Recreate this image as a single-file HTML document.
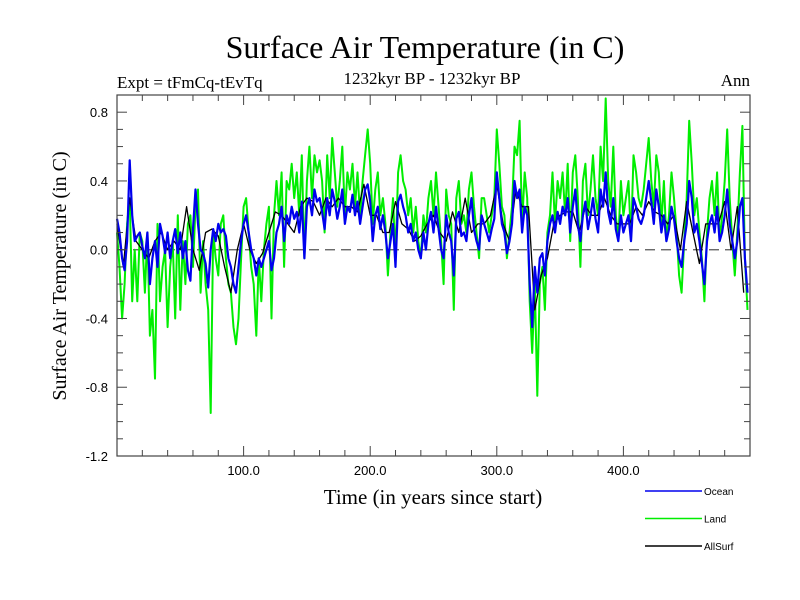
<!DOCTYPE html>
<html><head><meta charset="utf-8"><style>
body{margin:0;background:#fff;}
svg{display:block;}
</style></head><body>
<svg id="chart" width="800" height="600" viewBox="0 0 800 600">
<text x="425" y="58" text-anchor="middle" font-family="Liberation Serif" font-size="32">Surface Air Temperature (in C)</text>
<text x="117" y="88" font-family="Liberation Serif" font-size="17">Expt = tFmCq-tEvTq</text>
<text x="432" y="84" text-anchor="middle" font-family="Liberation Serif" font-size="17">1232kyr BP - 1232kyr BP</text>
<text x="750" y="86" text-anchor="end" font-family="Liberation Serif" font-size="17">Ann</text>
<text transform="translate(66,276) rotate(-90)" text-anchor="middle" font-family="Liberation Serif" font-size="20">Surface Air Temperature (in C)</text>
<text x="433" y="504" text-anchor="middle" font-family="Liberation Serif" font-size="21">Time (in years since start)</text>
<g id="plot"></g>
<g id="axes"></g>
<g id="legend"></g>
</svg>
<script>
const oceanVals=[0.18,0.10,-0.05,-0.12,0.05,0.52,0.20,0.05,0.08,0.10,0.02,-0.05,0.10,-0.20,-0.05,0.05,-0.10,0.15,0.08,-0.02,0.10,-0.05,0.05,0.12,-0.02,
0.10,-0.05,0.05,-0.12,-0.18,0.12,0.35,0.15,0.0,-0.02,-0.08,-0.22,0.0,0.12,0.05,0.15,0.10,0.12,0.08,-0.05,-0.10,-0.20,-0.25,-0.10,0.05,
0.15,0.20,0.10,0.0,-0.05,-0.15,-0.05,-0.10,-0.05,0.0,0.05,-0.12,-0.05,0.10,0.15,0.25,0.05,0.20,0.15,0.25,0.18,0.22,0.10,0.28,-0.05,
0.25,0.30,0.20,0.35,0.28,0.30,0.22,0.12,0.30,0.20,0.35,0.28,0.18,0.25,0.35,0.15,0.25,0.22,0.32,0.20,0.28,0.15,0.25,0.35,0.38,
0.28,0.05,0.20,0.25,0.12,0.20,0.10,-0.05,0.05,0.15,-0.10,0.28,0.32,0.25,0.20,0.10,0.15,0.05,0.10,0.0,-0.05,0.10,0.0,0.15,0.22,
0.10,0.25,0.12,0.0,-0.05,0.20,0.10,0.05,-0.15,0.18,0.22,0.08,0.10,0.05,0.20,0.30,0.12,0.05,0.0,0.20,0.15,0.10,0.05,0.12,0.18,
0.45,0.30,0.15,0.10,-0.02,0.05,0.15,0.40,0.30,0.35,0.10,0.25,0.20,-0.20,-0.45,-0.10,-0.25,-0.05,-0.02,-0.15,0.05,0.15,0.20,0.10,0.22,
0.15,0.25,0.20,0.30,0.10,0.25,0.35,0.15,0.05,0.20,0.28,0.12,0.20,0.30,0.18,0.10,0.35,0.25,0.45,0.22,0.15,0.30,0.12,0.05,0.20,
0.10,0.15,0.20,0.05,0.30,0.25,0.18,0.15,0.20,0.30,0.40,0.28,0.15,0.35,0.25,0.10,0.20,0.05,0.12,0.25,0.18,0.05,-0.05,-0.10,0.05,
0.15,0.40,0.30,0.10,0.15,0.05,-0.08,-0.20,0.05,0.15,0.20,0.10,0.25,0.05,0.10,0.20,0.35,0.15,0.05,-0.05,0.05,0.25,0.30,-0.05,-0.25];
const landVals=[0.10,-0.10,-0.40,-0.20,0.15,0.30,-0.30,0.0,-0.30,0.10,0.05,-0.25,0.10,-0.50,-0.35,-0.75,0.15,-0.30,-0.10,0.0,-0.45,-0.10,0.05,-0.40,0.20,
-0.35,0.05,-0.20,0.15,0.20,-0.10,0.25,0.35,-0.25,0.05,-0.20,-0.35,-0.95,0.10,-0.05,-0.15,0.15,0.20,-0.05,-0.20,-0.25,-0.45,-0.55,-0.40,-0.05,
0.25,0.30,0.10,-0.10,-0.20,-0.50,-0.05,-0.30,0.0,0.15,0.25,-0.40,0.20,0.40,0.20,0.45,-0.10,0.40,0.35,0.50,0.30,0.45,0.20,0.55,-0.05,
0.40,0.60,0.30,0.55,0.45,0.52,0.40,0.10,0.55,0.30,0.65,0.45,0.25,0.40,0.60,0.20,0.45,0.35,0.50,0.25,0.45,0.20,0.40,0.55,0.70,
0.50,0.15,0.35,0.45,0.20,0.30,0.15,-0.15,0.10,0.30,-0.05,0.45,0.55,0.40,0.35,0.20,0.30,0.10,0.25,0.05,-0.05,0.20,0.10,0.30,0.40,
0.20,0.45,0.25,0.05,-0.20,0.35,0.20,0.15,-0.35,0.30,0.40,0.15,0.20,0.10,0.35,0.45,0.25,0.10,-0.05,0.30,0.30,0.20,0.10,0.20,0.30,
0.70,0.50,0.25,0.20,-0.05,0.10,0.25,0.60,0.55,0.75,0.15,0.45,0.30,-0.30,-0.60,-0.20,-0.85,-0.20,-0.10,-0.35,0.10,0.20,0.45,0.15,0.40,
0.30,0.45,0.20,0.50,0.05,0.45,0.55,0.30,-0.10,0.40,0.50,0.20,0.35,0.55,0.30,0.20,0.60,0.40,0.88,0.40,0.25,0.60,0.20,0.05,0.40,
0.20,0.30,0.40,0.05,0.55,0.45,0.30,0.25,0.35,0.50,0.65,0.40,0.25,0.55,0.45,0.15,0.40,0.05,0.20,0.45,0.30,0.10,-0.15,-0.25,0.05,
0.30,0.75,0.50,0.20,0.30,0.10,-0.05,-0.30,0.10,0.30,0.40,0.20,0.45,0.05,0.20,0.40,0.70,0.30,0.05,-0.15,0.10,0.45,0.72,-0.05,-0.35];
const allSurfVals=[0.15,-0.10,0.30,0.05,0.0,-0.05,0.05,0.10,0.0,0.05,0.0,0.25,0.0,-0.12,0.10,0.12,0.08,-0.10,-0.25,0.0,
0.15,0.0,-0.08,-0.02,0.10,0.22,0.20,0.15,0.10,0.25,0.30,0.28,0.20,0.30,0.25,0.30,0.25,0.25,0.22,0.38,
0.20,0.20,0.10,0.10,0.28,0.15,0.12,0.05,0.08,0.15,0.20,0.10,0.05,0.22,0.10,0.30,0.10,0.15,0.15,0.20,
0.38,0.15,0.05,0.35,0.25,0.25,-0.35,-0.15,-0.05,0.15,0.20,0.22,0.22,0.10,0.25,0.20,0.20,0.30,0.20,0.15,
0.15,0.15,0.25,0.20,0.28,0.22,0.20,0.15,0.20,0.0,0.28,0.10,-0.08,0.15,0.15,0.15,0.28,0.0,0.25,-0.25];
const oceanStep=2, landStep=2, allSurfStep=5;
const yTickVals=[0.8,0.4,0.0,-0.4,-0.8,-1.2];
const yTickLabels=["0.8","0.4","0.0","-0.4","-0.8","-1.2"];
const xTickVals=[100,200,300,400];
const xTickLabels=["100.0","200.0","300.0","400.0"];
const legendNames=["Ocean","Land","AllSurf"];

const L=117,R=750,T=95,B=456;
const xMin=0,xMax=500,yMin=-1.2,yMax=0.9;
const NS="http://www.w3.org/2000/svg";
function sx(v){return L+(v-xMin)/(xMax-xMin)*(R-L);}
function sy(v){return B-(v-yMin)/(yMax-yMin)*(B-T);}
function mk(tag,attrs,parent){const e=document.createElementNS(NS,tag);for(const k in attrs)e.setAttribute(k,attrs[k]);parent.appendChild(e);return e;}
const plot=document.getElementById('plot'),axes=document.getElementById('axes'),leg=document.getElementById('legend');

const zl=mk('line',{x1:L,x2:R,y1:sy(0),y2:sy(0),stroke:'#555','stroke-width':1.2,'stroke-dasharray':'10,6'},plot);



function series(vals,step,color,name,w){
  const d=vals.map((v,i)=>(i?'L':'M')+sx(i*step).toFixed(1)+','+sy(v).toFixed(1)).join('');
  const p=mk('path',{d:d,fill:'none',stroke:color,'stroke-width':w,'stroke-linejoin':'round'},plot);
  
  
}
series(landVals,landStep,'#00ee00','land-series',2);
series(allSurfVals,allSurfStep,'#000000','allsurf-series',1.3);
series(oceanVals,oceanStep,'#0000ee','ocean-series',2.2);

const fr=mk('rect',{x:L,y:T,width:R-L,height:B-T,fill:'none',stroke:'#444','stroke-width':1.2},axes);



for(let v=yMin;v<=yMax+1e-9;v+=0.1){
  const y=sy(v);const major=Math.abs(Math.round(v*10)%4)===0;const len=major?10:6;
  mk('line',{x1:L,x2:L+len,y1:y,y2:y,stroke:'#444'},axes);
  mk('line',{x1:R,x2:R-len,y1:y,y2:y,stroke:'#444'},axes);
}
for(let v=20;v<xMax;v+=20){
  const x=sx(v);const len=(v%100===0)?10:6;
  mk('line',{x1:x,x2:x,y1:B,y2:B-len,stroke:'#444'},axes);
  mk('line',{x1:x,x2:x,y1:T,y2:T+len,stroke:'#444'},axes);
}
yTickVals.forEach((v,i)=>{
  const t=mk('text',{x:108,y:sy(v)+5,'text-anchor':'end','font-family':'Liberation Sans','font-size':13},axes);
  t.textContent=yTickLabels[i];
  
  
});
xTickVals.forEach((v,i)=>{
  const t=mk('text',{x:sx(v),y:475,'text-anchor':'middle','font-family':'Liberation Sans','font-size':13},axes);
  t.textContent=xTickLabels[i];
  
  
});
const legColors=['#0000ee','#00ee00','#000000'];
legendNames.forEach((n,i)=>{
  const y=491+i*27.5;
  const g=mk('g',{},leg);
  
  
  mk('line',{x1:645,x2:702,y1:y,y2:y,stroke:legColors[i],'stroke-width':1.5},g);
  const t=mk('text',{x:704,y:y+4,'font-family':'Liberation Sans','font-size':10},g);
  t.textContent=n;
});
</script>
</body></html>
